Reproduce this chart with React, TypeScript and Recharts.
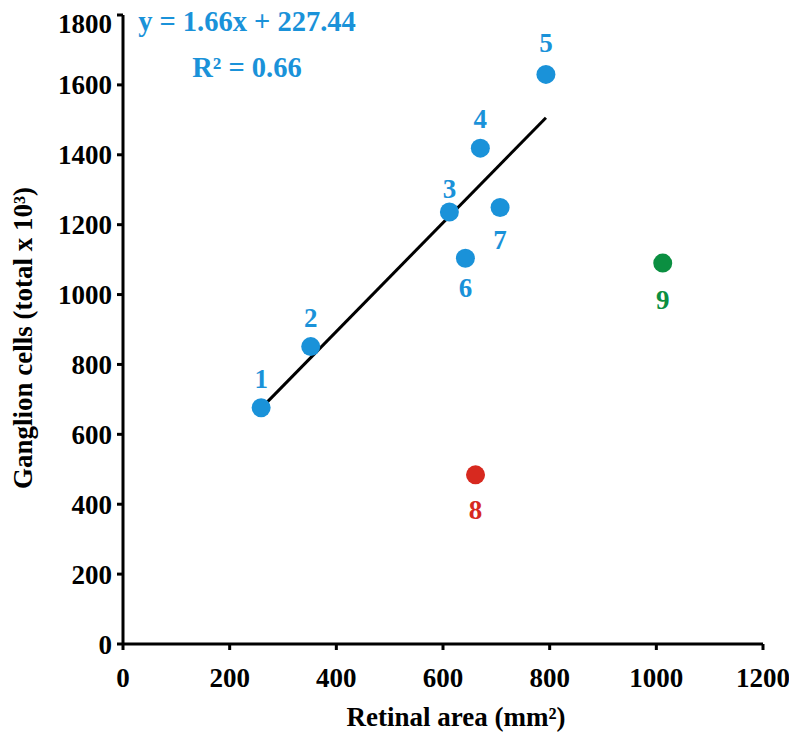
import React from 'react';
import { ScatterChart, Scatter, XAxis, YAxis, ReferenceLine } from 'recharts';

// retinal area (mm²) vs ganglion cells (total x 10³)
const blueIds = [1, 2, 3, 4, 5, 6, 7];
const blueArea = [259, 352, 612, 670, 793, 642, 707];
const blueCells = [676, 851, 1236, 1419, 1630, 1104, 1249];

const redIds = [8];
const redArea = [661];
const redCells = [484];

const greenIds = [9];
const greenArea = [1012];
const greenCells = [1090];

// drawn regression segment endpoints
const trendArea = [256, 793];
const trendCells = [670, 1506];

const xTicks = [0, 200, 400, 600, 800, 1000, 1200];
const yTicks = [0, 200, 400, 600, 800, 1000, 1200, 1400, 1600, 1800];

const BLUE = '#1a92d9';
const RED = '#d7291f';
const GREEN = '#0b8f41';
const FONT = "'Times New Roman', 'Liberation Serif', serif";

// label placement relative to the dot (px)
const labelOffset: Record<number, number> = {
  1: -29, 2: -29, 3: -23, 4: -29, 5: -31, 6: 30, 7: 32, 8: 35, 9: 37,
};

const toRows = (ids: number[], xs: number[], ys: number[]) =>
  ids.map((id, i) => ({ id, area: xs[i], cells: ys[i] }));

const makeShape = (color: string) => (props: any) => {
  const { cx, cy, payload } = props;
  if (cx == null || cy == null) return <g />;
  return (
    <g>
      <circle cx={cx} cy={cy} r={9.5} fill={color} />
      <text
        x={cx}
        y={cy + (labelOffset[payload.id] ?? -29)}
        textAnchor="middle"
        dominantBaseline="central"
        fill={color}
        fontFamily={FONT}
        fontWeight="bold"
        fontSize={27}
      >
        {payload.id}
      </text>
    </g>
  );
};

const tickStyle = { fill: '#000', fontFamily: FONT, fontWeight: 'bold', fontSize: 27 };

export default function App() {
  const blue = toRows(blueIds, blueArea, blueCells);
  const red = toRows(redIds, redArea, redCells);
  const green = toRows(greenIds, greenArea, greenCells);

  return (
    <div style={{ position: 'relative', width: 789, height: 731 }}>
      <ScatterChart width={789} height={731} margin={{ top: 7, right: 34, left: 0, bottom: 0 }}>
        <XAxis
          type="number"
          dataKey="area"
          domain={[0, 1200]}
          ticks={xTicks}
          height={95}
          stroke="#000"
          strokeWidth={3}
          tickSize={6}
          tickMargin={18}
          tick={tickStyle}
          tickLine={{ stroke: '#000', strokeWidth: 3 }}
        />
        <YAxis
          type="number"
          dataKey="cells"
          domain={[0, 1800]}
          ticks={yTicks}
          width={115}
          stroke="#000"
          strokeWidth={3}
          tickSize={6}
          tickMargin={5}
          tick={tickStyle}
          tickLine={{ stroke: '#000', strokeWidth: 3 }}
        />
        <ReferenceLine
          segment={[
            { x: trendArea[0], y: trendCells[0] },
            { x: trendArea[1], y: trendCells[1] },
          ]}
          stroke="#000"
          strokeWidth={3}
        />
        <Scatter data={blue} shape={makeShape(BLUE)} isAnimationActive={false} />
        <Scatter data={red} shape={makeShape(RED)} isAnimationActive={false} />
        <Scatter data={green} shape={makeShape(GREEN)} isAnimationActive={false} />
      </ScatterChart>

      <div
        style={{
          position: 'absolute', left: 239, top: 0, transform: 'translateX(-50%)',
          fontFamily: FONT, fontWeight: 'bold', fontSize: 28.5, color: BLUE,
          whiteSpace: 'nowrap', lineHeight: '27px', textAlign: 'center',
        }}
      >
        <div>y = 1.66x + 227.44</div>
        <div style={{ marginTop: 19 }}>R² = 0.66</div>
      </div>

      <div
        style={{
          position: 'absolute', left: 448, top: 696, transform: 'translateX(-50%)',
          fontFamily: FONT, fontWeight: 'bold', fontSize: 27, whiteSpace: 'nowrap',
          lineHeight: '27px',
        }}
      >
        Retinal area (mm²)
      </div>

      <div
        style={{
          position: 'absolute', left: 15, top: 330,
          transform: 'translate(-50%, -50%) rotate(-90deg)',
          fontFamily: FONT, fontWeight: 'bold', fontSize: 27, whiteSpace: 'nowrap',
          lineHeight: '27px',
        }}
      >
        Ganglion cells (total x 10³)
      </div>
    </div>
  );
}
